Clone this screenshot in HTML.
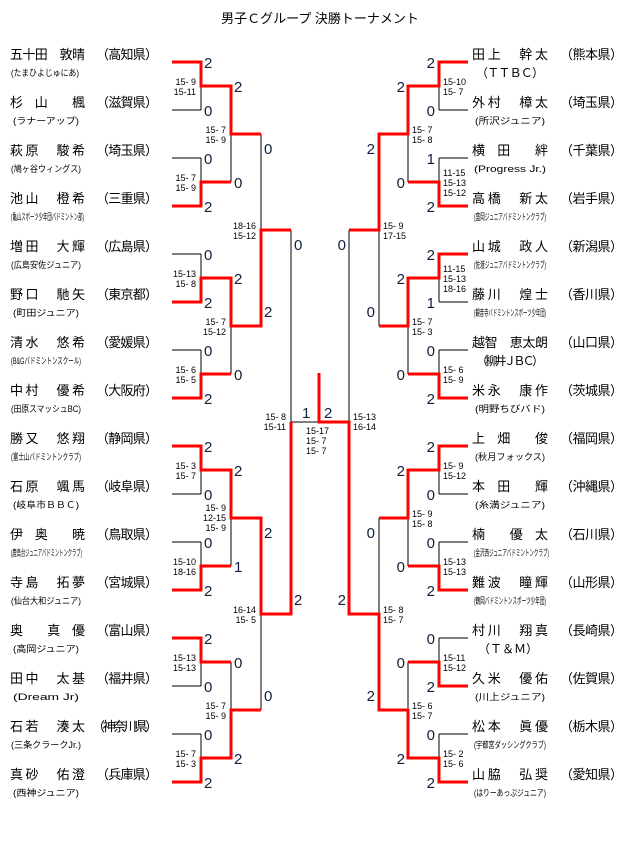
<!DOCTYPE html>
<html><head><meta charset="utf-8"><style>
html,body{margin:0;padding:0;background:#fff;}
svg{display:block;}
.n{font-family:"Liberation Sans","Noto Sans CJK JP",sans-serif;font-size:13px;fill:#000;}
.c{font-family:"Liberation Sans","Noto Sans CJK JP",sans-serif;font-size:9px;fill:#000;}
.d{font-family:"Liberation Sans",sans-serif;font-size:15px;fill:#102040;}
.s{font-family:"Liberation Sans",sans-serif;font-size:9px;fill:#000;white-space:pre;}
.t{font-family:"Liberation Sans","Noto Sans CJK JP",sans-serif;font-size:13px;fill:#000;}
</style></head><body>
<svg width="640" height="853" viewBox="0 0 640 853" xmlns="http://www.w3.org/2000/svg" xml:space="preserve">
<text class="t" x="320" y="23" text-anchor="middle">男子Ｃグループ 決勝トーナメント</text>

<path fill="none" stroke="#000" stroke-width="1" d="
M172 62H201M172 110H201M172 158H201M172 206H201M172 254H201M172 302H201M172 350H201M172 398H201
M172 446H201M172 494H201M172 542H201M172 590H201M172 638H201M172 686H201M172 734H201M172 782H201
M201 62V110M201 158V206M201 254V302M201 350V398M201 446V494M201 542V590M201 638V686M201 734V782
M231 86V182M231 278V374M231 470V566M231 662V758
M261 134V326M261 518V710
M291 230V614M291 422H319
M439 62H468M439 110H468M439 158H468M439 206H468M439 254H468M439 302H468M439 350H468M439 398H468
M439 446H468M439 494H468M439 542H468M439 590H468M439 638H468M439 686H468M439 734H468M439 782H468
M439 62V110M439 158V206M439 254V302M439 350V398M439 446V494M439 542V590M439 638V686M439 734V782
M408 86V182M408 278V374M408 470V566M408 662V758
M379 134V326M379 518V710
M349 230V614"/>

<path fill="none" stroke="#ff0000" stroke-width="3" stroke-linejoin="miter" d="
M172 62H201V86H231V134H261
M172 206H201V182H231
M172 302H201V278H231V326H261V230H291
M172 398H201V374H231
M172 446H201V470H231V518H261V614H291V422
M172 590H201V566H231
M172 638H201V662H231
M172 782H201V758H231V710H261
M468 62H439V86H408V134H379V230H349
M468 206H439V182H408
M468 254H439V278H408V326H379
M468 398H439V374H408
M468 446H439V470H408V518H379
M468 590H439V566H408
M468 686H439V662H408
M468 782H439V758H408V710H379V614H349V422H319V373"/>

<g class="n">
<text x="10" y="59" textLength="75">五十田　敦晴</text><text x="96" y="59" textLength="62">（高知県）</text>
<text x="10" y="107" textLength="75">杉　山　　楓</text><text x="96" y="107" textLength="62">（滋賀県）</text>
<text x="10" y="155" textLength="75">萩原　駿希</text><text x="96" y="155" textLength="62">（埼玉県）</text>
<text x="10" y="203" textLength="75">池山　橙希</text><text x="96" y="203" textLength="62">（三重県）</text>
<text x="10" y="251" textLength="75">増田　大輝</text><text x="96" y="251" textLength="62">（広島県）</text>
<text x="10" y="299" textLength="75">野口　馳矢</text><text x="96" y="299" textLength="62">（東京都）</text>
<text x="10" y="347" textLength="75">清水　悠希</text><text x="96" y="347" textLength="62">（愛媛県）</text>
<text x="10" y="395" textLength="75">中村　優希</text><text x="96" y="395" textLength="62">（大阪府）</text>
<text x="10" y="443" textLength="75">勝又　悠翔</text><text x="96" y="443" textLength="62">（静岡県）</text>
<text x="10" y="491" textLength="75">石原　颯馬</text><text x="96" y="491" textLength="62">（岐阜県）</text>
<text x="10" y="539" textLength="75">伊　奥　　暁</text><text x="96" y="539" textLength="62">（鳥取県）</text>
<text x="10" y="587" textLength="75">寺島　拓夢</text><text x="96" y="587" textLength="62">（宮城県）</text>
<text x="10" y="635" textLength="75">奥　　真　優</text><text x="96" y="635" textLength="62">（富山県）</text>
<text x="10" y="683" textLength="75">田中　太基</text><text x="96" y="683" textLength="62">（福井県）</text>
<text x="10" y="731" textLength="75">石若　湊太</text><text x="92" y="731" textLength="66">（神奈川県）</text>
<text x="10" y="779" textLength="75">真砂　佑澄</text><text x="96" y="779" textLength="62">（兵庫県）</text>
</g>
<g class="c">
<text x="11" y="76" textLength="68" lengthAdjust="spacingAndGlyphs">(たまひよじゅにあ)</text>
<text x="13" y="124" textLength="66" lengthAdjust="spacingAndGlyphs">(ラナーアップ)</text>
<text x="11" y="172" textLength="70" lengthAdjust="spacingAndGlyphs">(鳩ヶ谷ウィングス)</text>
<text x="11" y="220" textLength="73" lengthAdjust="spacingAndGlyphs">(亀山スポーツ少年団バドミントン部)</text>
<text x="11" y="268" textLength="70" lengthAdjust="spacingAndGlyphs">(広島安佐ジュニア)</text>
<text x="13" y="316" textLength="66" lengthAdjust="spacingAndGlyphs">(町田ジュニア)</text>
<text x="11" y="364" textLength="70" lengthAdjust="spacingAndGlyphs">(B&amp;Gバドミントンスクール)</text>
<text x="11" y="412" textLength="70" lengthAdjust="spacingAndGlyphs">(田原スマッシュBC)</text>
<text x="11" y="460" textLength="70" lengthAdjust="spacingAndGlyphs">(富士山バドミントンクラブ)</text>
<text x="13" y="508" textLength="66" lengthAdjust="spacingAndGlyphs">(岐阜市ＢＢＣ)</text>
<text x="11" y="556" textLength="71" lengthAdjust="spacingAndGlyphs">(鹿島台ジュニアバドミントンクラブ)</text>
<text x="11" y="604" textLength="70" lengthAdjust="spacingAndGlyphs">(仙台大和ジュニア)</text>
<text x="13" y="652" textLength="66" lengthAdjust="spacingAndGlyphs">(高岡ジュニア)</text>
<text x="13" y="700" textLength="66" lengthAdjust="spacingAndGlyphs">(Dream Jr)</text>
<text x="11" y="748" textLength="70" lengthAdjust="spacingAndGlyphs">(三条クラークJr.)</text>
<text x="13" y="796" textLength="66" lengthAdjust="spacingAndGlyphs">(西神ジュニア)</text>
</g>

<g class="n">
<text x="472" y="59" textLength="76">田上　幹太</text><text x="560" y="59" textLength="63">（熊本県）</text>
<text x="472" y="107" textLength="76">外村　樟太</text><text x="560" y="107" textLength="63">（埼玉県）</text>
<text x="472" y="155" textLength="76">横　田　　絆</text><text x="560" y="155" textLength="63">（千葉県）</text>
<text x="472" y="203" textLength="76">高橋　新太</text><text x="560" y="203" textLength="63">（岩手県）</text>
<text x="472" y="251" textLength="76">山城　政人</text><text x="560" y="251" textLength="63">（新潟県）</text>
<text x="472" y="299" textLength="76">藤川　煌士</text><text x="560" y="299" textLength="63">（香川県）</text>
<text x="472" y="347" textLength="76">越智　恵太朗</text><text x="560" y="347" textLength="63">（山口県）</text>
<text x="472" y="395" textLength="76">米永　康作</text><text x="560" y="395" textLength="63">（茨城県）</text>
<text x="472" y="443" textLength="76">上　畑　　俊</text><text x="560" y="443" textLength="63">（福岡県）</text>
<text x="472" y="491" textLength="76">本　田　　輝</text><text x="560" y="491" textLength="63">（沖縄県）</text>
<text x="472" y="539" textLength="76">楠　　優　太</text><text x="560" y="539" textLength="63">（石川県）</text>
<text x="472" y="587" textLength="76">難波　瞳輝</text><text x="560" y="587" textLength="63">（山形県）</text>
<text x="472" y="635" textLength="76">村川　翔真</text><text x="560" y="635" textLength="63">（長崎県）</text>
<text x="472" y="683" textLength="76">久米　優佑</text><text x="560" y="683" textLength="63">（佐賀県）</text>
<text x="472" y="731" textLength="76">松本　眞優</text><text x="560" y="731" textLength="63">（栃木県）</text>
<text x="472" y="779" textLength="76">山脇　弘奨</text><text x="560" y="779" textLength="63">（愛知県）</text>
</g>
<g class="c">
<text x="476" y="77" textLength="68" style="font-size:12px">（ＴＴＢＣ）</text>
<text x="475" y="124" textLength="70" lengthAdjust="spacingAndGlyphs">(所沢ジュニア)</text>
<text x="474" y="172" textLength="72" lengthAdjust="spacingAndGlyphs">(Progress Jr.)</text>
<text x="474" y="220" textLength="72" lengthAdjust="spacingAndGlyphs">(盛岡ジュニアバドミントンクラブ)</text>
<text x="474" y="268" textLength="72" lengthAdjust="spacingAndGlyphs">(佐渡ジュニアバドミントンクラブ)</text>
<text x="474" y="316" textLength="72" lengthAdjust="spacingAndGlyphs">(観音寺バドミントンスポーツ少年団)</text>
<text x="476" y="365" textLength="68" style="font-size:12px">（柳井ＪＢＣ）</text>
<text x="475" y="412" textLength="70" lengthAdjust="spacingAndGlyphs">(明野ちびバド)</text>
<text x="475" y="460" textLength="70" lengthAdjust="spacingAndGlyphs">(秋月フォックス)</text>
<text x="475" y="508" textLength="70" lengthAdjust="spacingAndGlyphs">(糸満ジュニア)</text>
<text x="474" y="556" textLength="75" lengthAdjust="spacingAndGlyphs">(金沢西ジュニアバドミントンクラブ)</text>
<text x="474" y="604" textLength="72" lengthAdjust="spacingAndGlyphs">(鶴岡バドミントンスポーツ少年団)</text>
<text x="478" y="653" textLength="60" style="font-size:12px">（Ｔ＆Ｍ）</text>
<text x="475" y="700" textLength="70" lengthAdjust="spacingAndGlyphs">(川上ジュニア)</text>
<text x="474" y="748" textLength="72" lengthAdjust="spacingAndGlyphs">(宇都宮ダッシングクラブ)</text>
<text x="474" y="796" textLength="72" lengthAdjust="spacingAndGlyphs">(はりーあっぷジュニア)</text>
</g>

<g class="d">
<text x="204" y="68">2</text><text x="204" y="116">0</text><text x="204" y="164">0</text><text x="204" y="212">2</text>
<text x="204" y="260">0</text><text x="204" y="308">2</text><text x="204" y="356">0</text><text x="204" y="404">2</text>
<text x="204" y="452">2</text><text x="204" y="500">0</text><text x="204" y="548">0</text><text x="204" y="596">2</text>
<text x="204" y="644">2</text><text x="204" y="692">0</text><text x="204" y="740">0</text><text x="204" y="788">2</text>
<text x="234" y="92">2</text><text x="234" y="188">0</text><text x="234" y="284">2</text><text x="234" y="380">0</text>
<text x="234" y="476">2</text><text x="234" y="572">1</text><text x="234" y="668">0</text><text x="234" y="764">2</text>
<text x="264" y="154">0</text><text x="264" y="317">2</text><text x="264" y="538">2</text><text x="264" y="701">0</text>
<text x="294" y="250">0</text><text x="294" y="605">2</text>
<text x="302" y="418">1</text><text x="324" y="418">2</text>
</g>
<g class="d" text-anchor="end">
<text x="435" y="68">2</text><text x="435" y="116">0</text><text x="435" y="164">1</text><text x="435" y="212">2</text>
<text x="435" y="260">2</text><text x="435" y="308">1</text><text x="435" y="356">0</text><text x="435" y="404">2</text>
<text x="435" y="452">2</text><text x="435" y="500">0</text><text x="435" y="548">0</text><text x="435" y="596">2</text>
<text x="435" y="644">0</text><text x="435" y="692">2</text><text x="435" y="740">0</text><text x="435" y="788">2</text>
<text x="405" y="92">2</text><text x="405" y="188">0</text><text x="405" y="284">2</text><text x="405" y="380">0</text>
<text x="405" y="476">2</text><text x="405" y="572">0</text><text x="405" y="668">0</text><text x="405" y="764">2</text>
<text x="375" y="154">2</text><text x="375" y="317">0</text><text x="375" y="538">0</text><text x="375" y="701">2</text>
<text x="346" y="250">0</text><text x="346" y="605">2</text>
</g>

<g class="s" text-anchor="end">
<text x="196" y="85">15- 9</text><text x="196" y="95">15-11</text>
<text x="196" y="181">15- 7</text><text x="196" y="191">15- 9</text>
<text x="196" y="277">15-13</text><text x="196" y="287">15- 8</text>
<text x="196" y="373">15- 6</text><text x="196" y="383">15- 5</text>
<text x="196" y="469">15- 3</text><text x="196" y="479">15- 7</text>
<text x="196" y="565">15-10</text><text x="196" y="575">18-16</text>
<text x="196" y="661">15-13</text><text x="196" y="671">15-13</text>
<text x="196" y="757">15- 7</text><text x="196" y="767">15- 3</text>
<text x="226" y="133">15- 7</text><text x="226" y="143">15- 9</text>
<text x="226" y="325">15- 7</text><text x="226" y="335">15-12</text>
<text x="226" y="511">15- 9</text><text x="226" y="521">12-15</text><text x="226" y="531">15- 9</text>
<text x="226" y="709">15- 7</text><text x="226" y="719">15- 9</text>
<text x="256" y="229">18-16</text><text x="256" y="239">15-12</text>
<text x="256" y="613">16-14</text><text x="256" y="623">15- 5</text>
<text x="286" y="420">15- 8</text><text x="286" y="430">15-11</text>
</g>
<g class="s">
<text x="443" y="85">15-10</text><text x="443" y="95">15- 7</text>
<text x="443" y="176">11-15</text><text x="443" y="186">15-13</text><text x="443" y="196">15-12</text>
<text x="443" y="272">11-15</text><text x="443" y="282">15-13</text><text x="443" y="292">18-16</text>
<text x="443" y="373">15- 6</text><text x="443" y="383">15- 9</text>
<text x="443" y="469">15- 9</text><text x="443" y="479">15-12</text>
<text x="443" y="565">15-13</text><text x="443" y="575">15-13</text>
<text x="443" y="661">15-11</text><text x="443" y="671">15-12</text>
<text x="443" y="757">15- 2</text><text x="443" y="767">15- 6</text>
<text x="412" y="133">15- 7</text><text x="412" y="143">15- 8</text>
<text x="412" y="325">15- 7</text><text x="412" y="335">15- 3</text>
<text x="412" y="517">15- 9</text><text x="412" y="527">15- 8</text>
<text x="412" y="709">15- 6</text><text x="412" y="719">15- 7</text>
<text x="383" y="229">15- 9</text><text x="383" y="239">17-15</text>
<text x="383" y="613">15- 8</text><text x="383" y="623">15- 7</text>
<text x="353" y="420">15-13</text><text x="353" y="430">16-14</text>
<text x="306" y="434">15-17</text><text x="306" y="444">15- 7</text><text x="306" y="454">15- 7</text>
</g>
</svg>
</body></html>
